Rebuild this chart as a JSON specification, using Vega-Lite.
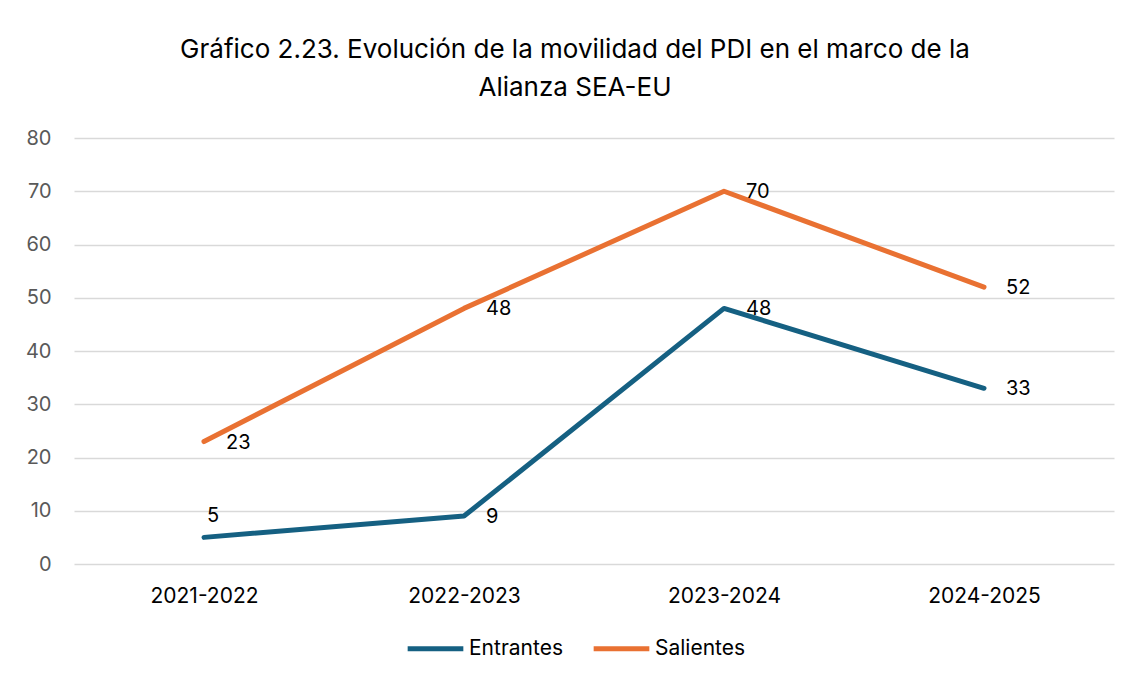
{
  "$schema": "https://vega.github.io/schema/vega-lite/v6.json",
  "autosize": "none",
  "width": 1040,
  "height": 426,
  "padding": {"left": 74, "top": 138, "right": 16, "bottom": 113},
  "background": "white",
  "title": {
    "text": ["Gráfico 2.23. Evolución de la movilidad del PDI en el marco de la", "Alianza SEA-EU"],
    "font": "Inter",
    "fontSize": 26,
    "fontWeight": "normal",
    "color": "#000000",
    "lineHeight": 38,
    "anchor": "middle",
    "dx": -19,
    "offset": 27
  },
  "data": {
    "values": [
      {"curso": "2021-2022", "serie": "Entrantes", "valor": 5},
      {"curso": "2022-2023", "serie": "Entrantes", "valor": 9},
      {"curso": "2023-2024", "serie": "Entrantes", "valor": 48},
      {"curso": "2024-2025", "serie": "Entrantes", "valor": 33},
      {"curso": "2021-2022", "serie": "Salientes", "valor": 23},
      {"curso": "2022-2023", "serie": "Salientes", "valor": 48},
      {"curso": "2023-2024", "serie": "Salientes", "valor": 70},
      {"curso": "2024-2025", "serie": "Salientes", "valor": 52}
    ]
  },
  "encoding": {
    "x": {
      "field": "curso", "type": "ordinal", "title": null,
      "scale": {"paddingInner": 0, "paddingOuter": 0.5},
      "axis": {"labelAngle": 0, "domain": false, "ticks": false, "labelPadding": 21, "labelFontSize": 21, "labelColor": "#000000", "labelFont": "Inter", "grid": false}
    },
    "y": {
      "field": "valor", "type": "quantitative", "title": null,
      "scale": {"domain": [0, 80], "nice": false},
      "axis": {"values": [0, 10, 20, 30, 40, 50, 60, 70, 80], "domain": false, "ticks": false, "labelPadding": 23, "labelFontSize": 20, "labelColor": "#595959", "labelFont": "Inter", "gridColor": "#d9d9d9", "gridWidth": 1.5}
    }
  },
  "layer": [
    {
      "mark": {"type": "line", "strokeWidth": 5, "strokeCap": "round", "strokeJoin": "round"},
      "encoding": {
        "color": {
          "field": "serie", "type": "nominal", "title": null,
          "scale": {"domain": ["Entrantes", "Salientes"], "range": ["#156082", "#E97132"]},
          "legend": {"orient": "none", "legendX": 331, "legendY": 480, "direction": "horizontal", "symbolType": "stroke", "symbolSize": 3100, "symbolStrokeWidth": 5, "labelFontSize": 21, "labelFont": "Inter", "labelColor": "#000000", "columnPadding": 20, "labelOffset": 3}
        }
      }
    },
    {
      "transform": [{"filter": "!(datum.serie == 'Entrantes' && datum.curso == '2021-2022')"}],
      "mark": {"type": "text", "align": "left", "baseline": "middle", "dx": 22, "dy": 1, "fontSize": 20, "font": "Inter", "color": "#000000"},
      "encoding": {"text": {"field": "valor", "type": "quantitative"}}
    },
    {
      "transform": [{"filter": "datum.serie == 'Entrantes' && datum.curso == '2021-2022'"}],
      "mark": {"type": "text", "align": "center", "baseline": "middle", "dx": 9, "dy": -21, "fontSize": 20, "font": "Inter", "color": "#000000"},
      "encoding": {"text": {"field": "valor", "type": "quantitative"}}
    }
  ],
  "config": {
    "view": {"stroke": null}
  }
}
